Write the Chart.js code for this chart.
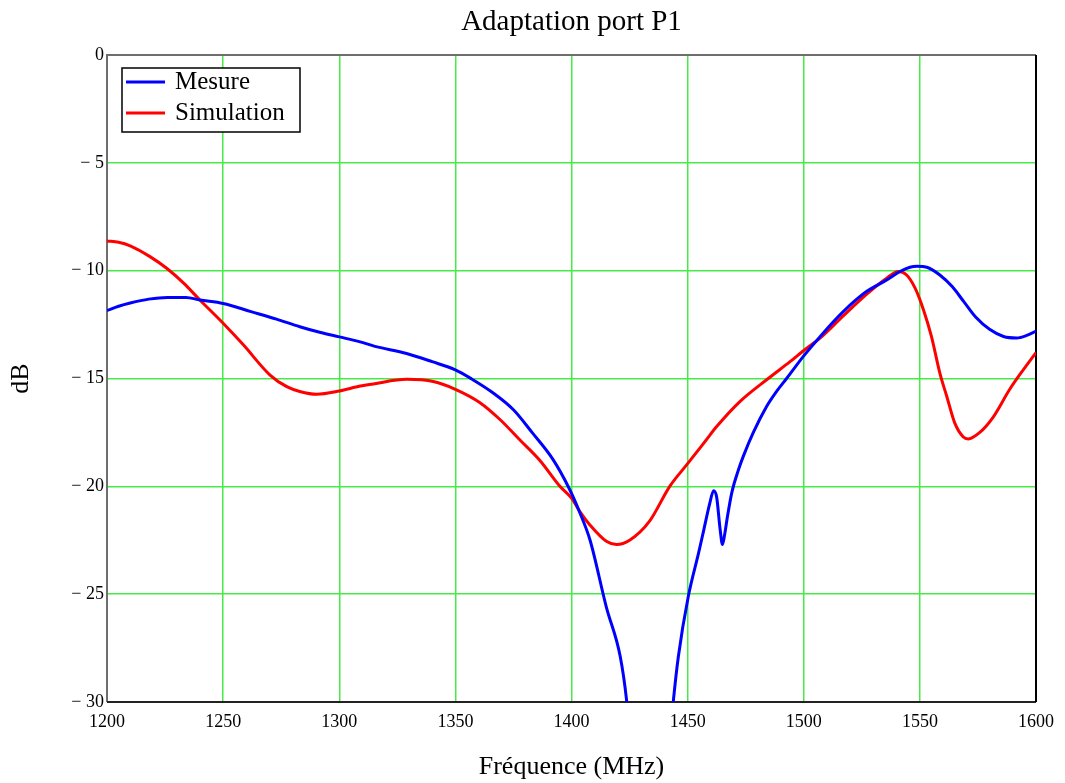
<!DOCTYPE html>
<html>
<head>
<meta charset="utf-8">
<script src="https://cdn.jsdelivr.net/npm/chart.js@4/dist/chart.umd.min.js"></script>
<style>
  html, body { margin: 0; padding: 0; background: #ffffff; }
  #wrap { width: 1065px; height: 783px; }
</style>
</head>
<body>
<div id="wrap"><canvas id="chart" width="1065" height="783"></canvas></div>
<script>
// Mesure (blue) - frequency in MHz, return loss in dB
const mesureFreq = [1200, 1205, 1210, 1218, 1226, 1234, 1240, 1250, 1262, 1273, 1283, 1292, 1300, 1309, 1315, 1329, 1340, 1350, 1357, 1366, 1375, 1383, 1392, 1399, 1403.5, 1408, 1415, 1421, 1423.7, 1425, 1433, 1443, 1444, 1446, 1450.3, 1454.7, 1456.8, 1459.5, 1461.2, 1462.5, 1464, 1465, 1466, 1467, 1469, 1472, 1474, 1478.3, 1484, 1488.3, 1492.6, 1500, 1507, 1517, 1527, 1535.7, 1541.4, 1545.7, 1549, 1553, 1558.6, 1564, 1569, 1574, 1580, 1586, 1591.7, 1596, 1600];
const mesureDb = [-11.85, -11.65, -11.5, -11.32, -11.24, -11.24, -11.36, -11.52, -11.9, -12.25, -12.6, -12.87, -13.07, -13.3, -13.5, -13.84, -14.22, -14.6, -15.02, -15.65, -16.45, -17.5, -18.75, -20.1, -21.2, -22.5, -25.6, -27.9, -29.9, -31.5, -40, -31, -29.8, -27.9, -25.1, -23.1, -22.1, -20.8, -20.2, -20.5, -22.0, -22.7, -22.2, -21.5, -20.3, -19.2, -18.6, -17.5, -16.3, -15.6, -15.0, -13.95, -13.06, -11.9, -10.97, -10.43, -10.04, -9.84, -9.8, -9.84, -10.2, -10.75, -11.45, -12.15, -12.72, -13.05, -13.12, -13.0, -12.8];

// Simulation (red)
const simFreq = [1200, 1205, 1210, 1218.5, 1225.7, 1233, 1240, 1250, 1258.7, 1270.2, 1277.4, 1283, 1290.3, 1300, 1309, 1314.7, 1329, 1340.5, 1350, 1360.6, 1369.2, 1377.8, 1386.4, 1395, 1400, 1403.6, 1408, 1415, 1419.4, 1425, 1433.7, 1442.3, 1450, 1458, 1462.5, 1472.5, 1484.7, 1494.1, 1500, 1507, 1517, 1527, 1535.7, 1540.7, 1544.3, 1547.9, 1551.5, 1555, 1558.6, 1561.5, 1565, 1568.6, 1570.8, 1575.8, 1581.5, 1588.7, 1594.5, 1600];
const simDb = [-8.62, -8.68, -8.85, -9.35, -9.89, -10.58, -11.36, -12.44, -13.44, -14.84, -15.38, -15.6, -15.73, -15.58, -15.35, -15.25, -15.04, -15.14, -15.5, -16.12, -16.9, -17.85, -18.8, -20.0, -20.55, -21.17, -21.8, -22.55, -22.7, -22.5, -21.6, -20.0, -18.95, -17.85, -17.23, -16.07, -15.0, -14.22, -13.7, -13.13, -12.1, -11.1, -10.35, -10.04, -10.2, -10.8, -11.8, -13.06, -14.75, -15.8, -17.06, -17.7, -17.8, -17.5, -16.8, -15.5, -14.6, -13.8];

const seriesLabels = ['Mesure', 'Simulation'];
const xTicks = [1200, 1250, 1300, 1350, 1400, 1450, 1500, 1550, 1600];
const yTicks = [0, -5, -10, -15, -20, -25, -30];
const chartTitle = 'Adaptation port P1';

const serif = '"Liberation Serif", "DejaVu Serif", serif';
const gridGreen = 'rgb(70, 235, 70)';

function toPoints(xs, ys) {
    return xs.map((x, i) => ({ x: x, y: ys[i] }));
}

/**
 * Title centred over the plot area (not the whole canvas)
 */
const plotTitlePlugin = {
    id: 'plotTitle',
    afterDraw: (chart) => {
        const ctx = chart.ctx;
        const a = chart.chartArea;
        ctx.save();
        ctx.font = '29px ' + serif;
        ctx.fillStyle = '#000000';
        ctx.textAlign = 'center';
        ctx.textBaseline = 'middle';
        ctx.fillText(chartTitle, (a.left + a.right) / 2, 22);
        ctx.restore();
    }
};

/**
 * Frame around the plot area (grey left/top, dark bottom, black right)
 */
const framePlugin = {
    id: 'frame',
    beforeDatasetsDraw: (chart) => {
        const ctx = chart.ctx;
        const a = chart.chartArea;
        ctx.save();
        ctx.lineWidth = 2;
        ctx.strokeStyle = '#6e6e6e';
        ctx.beginPath();
        ctx.moveTo(a.left, a.bottom);
        ctx.lineTo(a.left, a.top);
        ctx.lineTo(a.right, a.top);
        ctx.stroke();
        ctx.strokeStyle = '#222222';
        ctx.beginPath();
        ctx.moveTo(a.left, a.bottom);
        ctx.lineTo(a.right, a.bottom);
        ctx.stroke();
        ctx.strokeStyle = '#000000';
        ctx.beginPath();
        ctx.moveTo(a.right, a.top);
        ctx.lineTo(a.right, a.bottom);
        ctx.stroke();
        ctx.restore();
    }
};

/**
 * Boxed legend in the upper left corner of the plot
 */
const boxLegendPlugin = {
    id: 'boxLegend',
    afterDatasetsDraw: (chart) => {
        const ctx = chart.ctx;
        const x0 = 122, y0 = 68, w = 178, h = 64;
        ctx.save();
        ctx.fillStyle = '#ffffff';
        ctx.fillRect(x0, y0, w, h);
        ctx.lineWidth = 1.5;
        ctx.strokeStyle = '#000000';
        ctx.strokeRect(x0, y0, w, h);
        ctx.font = '25px ' + serif;
        ctx.textBaseline = 'middle';
        ctx.textAlign = 'left';
        chart.data.datasets.forEach((ds, i) => {
            const cy = y0 + 14 + i * 31;
            ctx.strokeStyle = ds.borderColor;
            ctx.lineWidth = 3;
            ctx.beginPath();
            ctx.moveTo(x0 + 4, cy);
            ctx.lineTo(x0 + 43, cy);
            ctx.stroke();
            ctx.fillStyle = '#000000';
            ctx.fillText(ds.label, x0 + 53, cy);
        });
        ctx.restore();
    }
};

const ctx = document.getElementById('chart');
new Chart(ctx, {
    type: 'line',
    data: {
        datasets: [
            {
                label: seriesLabels[0],
                data: toPoints(mesureFreq, mesureDb),
                borderColor: '#0000ff',
                borderWidth: 3,
                pointRadius: 0,
                cubicInterpolationMode: 'monotone',
                fill: false
            },
            {
                label: seriesLabels[1],
                data: toPoints(simFreq, simDb),
                borderColor: '#ff0000',
                borderWidth: 3,
                pointRadius: 0,
                cubicInterpolationMode: 'monotone',
                fill: false
            }
        ]
    },
    options: {
        responsive: false,
        animation: false,
        layout: {
            padding: { left: 0, right: 29, top: 55, bottom: 0 }
        },
        plugins: {
            legend: { display: false },
            tooltip: { enabled: false },
            title: { display: false }
        },
        scales: {
            x: {
                type: 'linear',
                min: 1200,
                max: 1600,
                afterFit: (scale) => { scale.height = 81; },
                afterBuildTicks: (scale) => { scale.ticks = xTicks.map(v => ({ value: v })); },
                border: { display: false },
                grid: { color: gridGreen, lineWidth: 1.5, drawTicks: false },
                ticks: {
                    color: '#000000',
                    padding: 9,
                    maxRotation: 0,
                    font: { family: serif, size: 18 },
                    callback: (v) => String(v)
                },
                title: {
                    display: true,
                    text: 'Fréquence (MHz)',
                    color: '#000000',
                    font: { family: serif, size: 26 },
                    padding: { top: 0, bottom: 0 }
                }
            },
            y: {
                type: 'linear',
                min: -30,
                max: 0,
                afterFit: (scale) => { scale.width = 107; },
                afterBuildTicks: (scale) => { scale.ticks = yTicks.map(v => ({ value: v })); },
                border: { display: false },
                grid: { color: gridGreen, lineWidth: 1.5, drawTicks: false },
                ticks: {
                    color: '#000000',
                    padding: 3,
                    font: { family: serif, size: 18 },
                    callback: (v) => v === 0 ? '0' : '\u2212 ' + Math.abs(v)
                },
                title: {
                    display: true,
                    text: 'dB',
                    color: '#000000',
                    font: { family: serif, size: 26 },
                    padding: { top: 6, bottom: 0 }
                }
            }
        }
    },
    plugins: [framePlugin, boxLegendPlugin, plotTitlePlugin]
});
</script>
</body>
</html>
